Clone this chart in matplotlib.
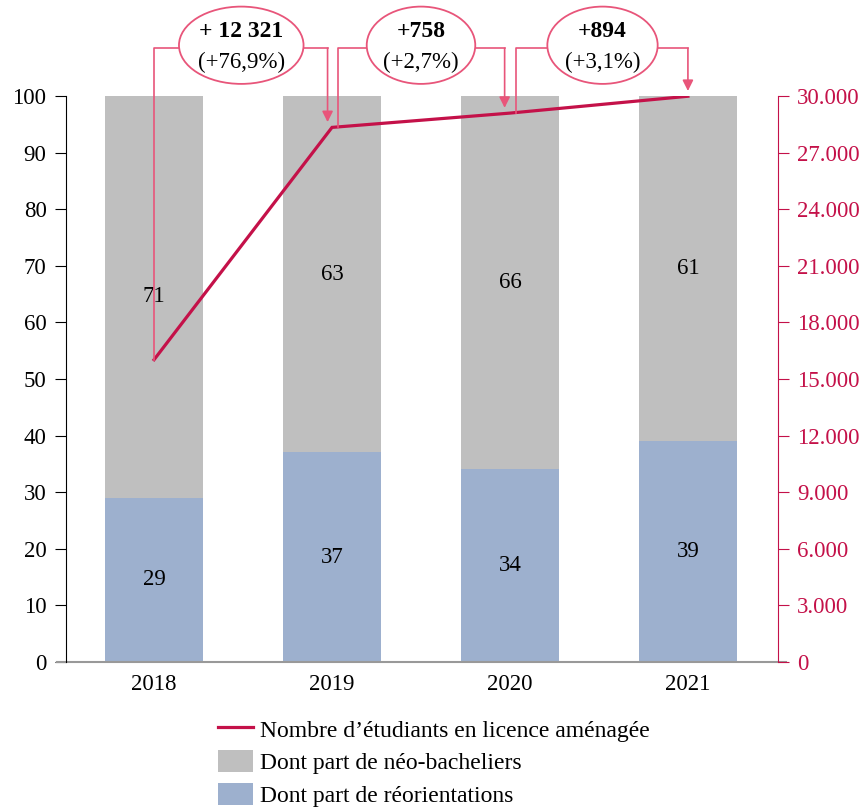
import matplotlib
matplotlib.use("Agg")
import matplotlib.pyplot as plt
from matplotlib.patches import Ellipse
from matplotlib.lines import Line2D
from matplotlib.patches import Patch

# data
years = ["2018", "2019", "2020", "2021"]
reorient = [29, 37, 34, 39]
neo = [71, 63, 66, 61]
students = [16022, 28343, 29101, 29995]
gain_abs = ["+ 12 321", "+758", "+894"]
gain_pct = ["(+76,9%)", "(+2,7%)", "(+3,1%)"]

plt.rcParams["font.family"] = ["Liberation Serif", "DejaVu Serif"]
FS = 16.5

c_line = "#C41149"
c_call = "#E8557A"
c_gray = "#BFBFBF"
c_blue = "#9DB0CE"

fig = plt.figure(figsize=(8.67, 8.08), dpi=100)
ax = fig.add_axes([0.0761, 0.181, 0.821, 0.700])
x = list(range(len(years)))

ax.bar(x, reorient, width=0.55, color=c_blue)
ax.bar(x, neo, width=0.55, bottom=reorient, color=c_gray)
for i in x:
  ax.text(i, reorient[i] / 2, str(reorient[i]), ha="center", va="center", fontsize=FS)
  ax.text(i, reorient[i] + neo[i] / 2, str(neo[i]), ha="center", va="center", fontsize=FS)

ax.set_xlim(-0.495, 3.505)
ax.set_ylim(0, 100)
ax.set_yticks(range(0, 101, 10))
ax.set_xticks(x)
ax.set_xticklabels(years)
ax.tick_params(axis="y", direction="out", length=8, width=0.8, labelsize=FS, pad=6)
ax.tick_params(axis="x", length=0, labelsize=FS, pad=9)
for s in ["top", "right"]:
  ax.spines[s].set_visible(False)
ax.spines["left"].set_linewidth(0.8)
ax.spines["bottom"].set_visible(False)
ax.plot([-0.012, 1.012], [0, 0], transform=ax.transAxes, color="#999999", lw=1.5, clip_on=False)

ax2 = ax.twinx()
ax2.set_ylim(0, 30000)
ax2.set_yticks(range(0, 30001, 3000))
ax2.set_yticklabels(["0"] + ["{:,}".format(v).replace(",", ".") for v in range(3000, 30001, 3000)])
ax2.tick_params(axis="y", direction="out", length=8, width=0.8, labelsize=FS, colors=c_line, pad=6)
for s in ["top", "left", "bottom"]:
  ax2.spines[s].set_visible(False)
ax2.spines["right"].set_color(c_line)
ax2.spines["right"].set_linewidth(0.8)
ax2.plot(x, students, color=c_line, lw=2.3, solid_joinstyle="miter", zorder=3)

# callouts with connectors
y_top = 32540
xs_start = [0, 1.035, 2.035]
xs_end = [0.975, 1.97, 3.0]
cx = [0.49, 1.5, 2.52]
widths = [0.70, 0.61, 0.62]
for k in range(3):
  ax2.plot([xs_start[k], xs_start[k], cx[k]], [students[k], y_top, y_top],
           color=c_call, lw=1.2, clip_on=False, zorder=4)
  ax2.plot([cx[k], xs_end[k]], [y_top, y_top], color=c_call, lw=1.2, clip_on=False, zorder=4)
  ax2.annotate("", xy=(xs_end[k], students[k + 1] + 280), xytext=(xs_end[k], y_top),
               arrowprops=dict(arrowstyle="-|>", color=c_call, lw=1.2,
                               mutation_scale=16, shrinkA=0, shrinkB=0),
               annotation_clip=False, zorder=4)
  e = Ellipse((cx[k], 32700), widths[k], 4100, facecolor="white", edgecolor=c_call,
              lw=1.3, clip_on=False, zorder=5)
  ax2.add_patch(e)
  ax2.text(cx[k], 33450, gain_abs[k], ha="center", va="center", fontsize=FS + 0.5,
           fontweight="bold", zorder=6, clip_on=False)
  ax2.text(cx[k], 31800, gain_pct[k], ha="center", va="center", fontsize=FS, zorder=6,
           clip_on=False)

handles = [Line2D([0], [0], color=c_line, lw=2.3),
           Patch(facecolor=c_gray), Patch(facecolor=c_blue)]
labels = ["Nombre d\u2019étudiants en licence aménagée",
          "Dont part de néo-bacheliers", "Dont part de réorientations"]
fig.legend(handles, labels, loc="upper left", bbox_to_anchor=(0.252, 0.112),
           frameon=False, fontsize=FS + 0.5, handlelength=1.45, handleheight=1.05,
           handletextpad=0.3, labelspacing=0.38, borderpad=0, borderaxespad=0)

fig.savefig("out.png", dpi=100)
